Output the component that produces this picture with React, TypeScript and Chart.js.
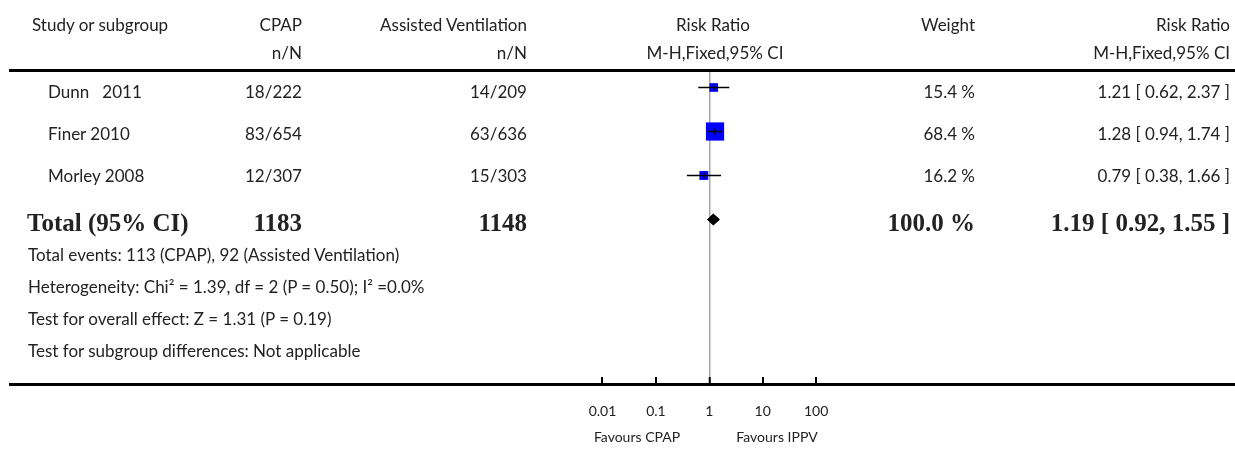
import React, { useEffect, useRef } from "react";
import { Chart, registerables } from "chart.js";

Chart.register(...registerables);

// ---------------- data ----------------
const studies = ["Dunn   2011", "Finer 2010", "Morley 2008"];
const cpapEvents = [18, 83, 12];
const cpapTotals = [222, 654, 307];
const avEvents = [14, 63, 15];
const avTotals = [209, 636, 303];
const weights = [15.4, 68.4, 16.2];
const riskRatios = [1.21, 1.28, 0.79];
const ciLower = [0.62, 0.94, 0.38];
const ciUpper = [2.37, 1.74, 1.66];

const totalLabel = "Total (95% CI)";
const totalCpap = 1183;
const totalAv = 1148;
const totalWeight = 100.0;
const totalRR = 1.19;
const totalLower = 0.92;
const totalUpper = 1.55;

const xTickValues = [0.01, 0.1, 1, 10, 100];
const xTickLabels = ["0.01", "0.1", "1", "10", "100"];

const footnotes = [
  "Total events: 113 (CPAP), 92 (Assisted Ventilation)",
  "Heterogeneity: Chi\u00B2 = 1.39, df = 2 (P = 0.50); I\u00B2 =0.0%",
  "Test for overall effect: Z = 1.31 (P = 0.19)",
  "Test for subgroup differences: Not applicable",
];

// ---------------- layout constants ----------------
const W = 1235;
const H = 449;
const PLOT_LEFT = 10;
const ONE_PX = 709.3;
const DECADE_PX = 53.4;
const AREA_TOP = 70;
const AREA_BOTTOM = 384;
const ROW0_PX = 87.5;
const ROW_STEP = 44;
const DIAMOND_HALF = 5.5 / ROW_STEP;

const X_MIN = Math.pow(10, -(ONE_PX - PLOT_LEFT) / DECADE_PX);
const X_MAX = Math.pow(10, (W - ONE_PX) / DECADE_PX);
const Y_MIN = -(ROW0_PX - AREA_TOP) / ROW_STEP;
const Y_MAX = Y_MIN + (AREA_BOTTOM - AREA_TOP) / ROW_STEP;

const TEXT = "#222";
const SANS = "Lato, 'Open Sans', sans-serif";
const SERIF = "'Liberation Serif', 'Times New Roman', serif";
const BODY_SIZE = 17;
const TOTAL_SIZE = 25;

const fmt2 = (v: number) => v.toFixed(2);
const ciText = (r: number, lo: number, hi: number) =>
  `${fmt2(r)} [ ${fmt2(lo)}, ${fmt2(hi)} ]`;

type Align = "left" | "right" | "center";
function Txt(props: {
  x: number;
  base: number;
  align?: Align;
  size?: number;
  bold?: boolean;
  serif?: boolean;
  children: React.ReactNode;
}) {
  const { x, base, align = "left", size = BODY_SIZE, bold = false, serif = false } = props;
  const asc = serif ? 0.9375 : 0.987;
  const style: React.CSSProperties = {
    position: "absolute",
    top: base - asc * size,
    fontFamily: serif ? SERIF : SANS,
    fontSize: size,
    fontWeight: bold ? 700 : 400,
    lineHeight: 1.2,
    whiteSpace: "pre",
    color: TEXT,
  };
  if (align === "left") style.left = x;
  else if (align === "right") style.right = W - x;
  else {
    style.left = x - 200;
    style.width = 400;
    style.textAlign = "center";
  }
  return <div style={style}>{props.children}</div>;
}

export default function App() {
  const canvasRef = useRef<HTMLCanvasElement | null>(null);

  useEffect(() => {
    if (!canvasRef.current) return;
    const totalRow = studies.length;
    const ciDatasets = studies.map((s, i) => ({
      type: "line" as const,
      label: s + " CI",
      data: [
        { x: ciLower[i], y: i },
        { x: ciUpper[i], y: i },
      ],
      borderColor: "#000",
      borderWidth: 1.5,
      pointRadius: 0,
      fill: false,
      xAxisID: "x",
      yAxisID: "y",
    }));

    const zeroPad = (s: any) => {
      s.paddingLeft = 0;
      s.paddingRight = 0;
      s.paddingTop = 0;
      s.paddingBottom = 0;
    };

    const chart = new Chart(canvasRef.current, {
      type: "scatter",
      data: {
        datasets: [
          {
            type: "scatter",
            label: "estimate",
            data: riskRatios.map((r, i) => ({ x: r, y: i })),
            pointStyle: "line",
            rotation: 90,
            pointRadius: 3,
            borderColor: "#000",
            backgroundColor: "#000",
            borderWidth: 1.5,
            xAxisID: "x",
            yAxisID: "y",
          } as any,
          ...ciDatasets,
          {
            type: "scatter",
            label: "weight",
            data: riskRatios.map((r, i) => ({ x: r, y: i })),
            pointStyle: "rect",
            pointRadius: weights.map((w) => 1.556 * Math.sqrt(w)),
            backgroundColor: "#0000ff",
            borderWidth: 0,
            xAxisID: "x",
            yAxisID: "y",
          } as any,
          {
            type: "line",
            label: "total",
            data: [
              { x: totalLower, y: totalRow },
              { x: totalRR, y: totalRow - DIAMOND_HALF },
              { x: totalUpper, y: totalRow },
              { x: totalRR, y: totalRow + DIAMOND_HALF },
              { x: totalLower, y: totalRow },
            ],
            fill: "shape",
            backgroundColor: "#000",
            borderColor: "#000",
            borderWidth: 1,
            pointRadius: 0,
            tension: 0,
            xAxisID: "x",
            yAxisID: "y",
          } as any,
        ],
      },
      options: {
        animation: false,
        responsive: false,
        maintainAspectRatio: false,
        devicePixelRatio: 1,
        events: [],
        layout: {
          autoPadding: false,
          padding: { left: PLOT_LEFT, right: 0, top: 0, bottom: 0 },
        },
        plugins: {
          legend: { display: false },
          tooltip: { enabled: false },
          title: { display: false },
        },
        scales: {
          x: {
            type: "logarithmic",
            axis: "x",
            position: "bottom",
            min: X_MIN,
            max: X_MAX,
            afterBuildTicks: (s: any) => {
              s.ticks = xTickValues.map((v) => ({ value: v }));
            },
            afterFit: (s: any) => {
              s.height = H - AREA_BOTTOM;
              zeroPad(s);
            },
            ticks: {
              autoSkip: false,
              maxRotation: 0,
              padding: 26,
              color: TEXT,
              font: { family: SANS, size: 14 },
              callback: (_v: any, i: number) => xTickLabels[i],
            },
            grid: {
              display: true,
              drawOnChartArea: true,
              drawTicks: true,
              tickLength: -7,
              tickColor: "#000",
              tickWidth: 2,
              color: (c: any) =>
                c.tick && c.tick.value === 1 ? "#a8a8a8" : "rgba(0,0,0,0)",
              lineWidth: (c: any) => (c.tick && c.tick.value === 1 ? 1.5 : 0),
            },
            border: { display: true, color: "#000", width: 3 },
          } as any,
          xTop: {
            type: "linear",
            axis: "x",
            position: "top",
            min: 0,
            max: 1,
            afterFit: (s: any) => {
              s.height = AREA_TOP;
              zeroPad(s);
            },
            ticks: { display: false },
            grid: { display: false, drawTicks: false },
            border: { display: true, color: "#000", width: 3 },
          } as any,
          y: {
            type: "linear",
            display: false,
            reverse: true,
            min: Y_MIN,
            max: Y_MAX,
          },
        },
      },
    });
    return () => chart.destroy();
  }, []);

  const rowBase = (i: number) => 99 + 42 * i;
  const totalBase = 231;
  const footBase = (i: number) => 262 + 32 * i;

  return (
    <div
      style={{
        position: "fixed",
        left: 0,
        top: 0,
        width: W,
        height: H,
        overflow: "hidden",
        background: "#fff",
      }}
    >
      <canvas
        ref={canvasRef}
        width={W}
        height={H}
        style={{ position: "absolute", left: 0, top: 0, width: W, height: H }}
      />
      {/* header */}
      <Txt x={32} base={32}>Study or subgroup</Txt>
      <Txt x={302} base={32} align="right">CPAP</Txt>
      <Txt x={527} base={32} align="right">Assisted Ventilation</Txt>
      <Txt x={713} base={32} align="center">Risk Ratio</Txt>
      <Txt x={975} base={32} align="right">Weight</Txt>
      <Txt x={1230} base={32} align="right">Risk Ratio</Txt>
      <Txt x={302} base={60} align="right">n/N</Txt>
      <Txt x={527} base={60} align="right">n/N</Txt>
      <Txt x={715} base={60} align="center">M-H,Fixed,95% CI</Txt>
      <Txt x={1230} base={60} align="right">M-H,Fixed,95% CI</Txt>

      {/* study rows */}
      {studies.map((s, i) => (
        <React.Fragment key={s}>
          <Txt x={48} base={rowBase(i)}>{s}</Txt>
          <Txt x={302} base={rowBase(i)} align="right">
            {`${cpapEvents[i]}/${cpapTotals[i]}`}
          </Txt>
          <Txt x={527} base={rowBase(i)} align="right">
            {`${avEvents[i]}/${avTotals[i]}`}
          </Txt>
          <Txt x={975} base={rowBase(i)} align="right">
            {`${weights[i].toFixed(1)} %`}
          </Txt>
          <Txt x={1230} base={rowBase(i)} align="right">
            {ciText(riskRatios[i], ciLower[i], ciUpper[i])}
          </Txt>
        </React.Fragment>
      ))}

      {/* total row */}
      <Txt x={27} base={totalBase} serif bold size={TOTAL_SIZE}>{totalLabel}</Txt>
      <Txt x={302} base={totalBase} align="right" serif bold size={TOTAL_SIZE}>
        {String(totalCpap)}
      </Txt>
      <Txt x={527} base={totalBase} align="right" serif bold size={TOTAL_SIZE}>
        {String(totalAv)}
      </Txt>
      <Txt x={975} base={totalBase} align="right" serif bold size={TOTAL_SIZE}>
        {`${totalWeight.toFixed(1)} %`}
      </Txt>
      <Txt x={1230} base={totalBase} align="right" serif bold size={TOTAL_SIZE}>
        {ciText(totalRR, totalLower, totalUpper)}
      </Txt>

      {/* footnotes */}
      {footnotes.map((f, i) => (
        <Txt key={f} x={28} base={footBase(i)}>{f}</Txt>
      ))}

      {/* favours labels */}
      <Txt x={637} base={443} align="center" size={14}>Favours CPAP</Txt>
      <Txt x={777} base={443} align="center" size={14}>Favours IPPV</Txt>
    </div>
  );
}
